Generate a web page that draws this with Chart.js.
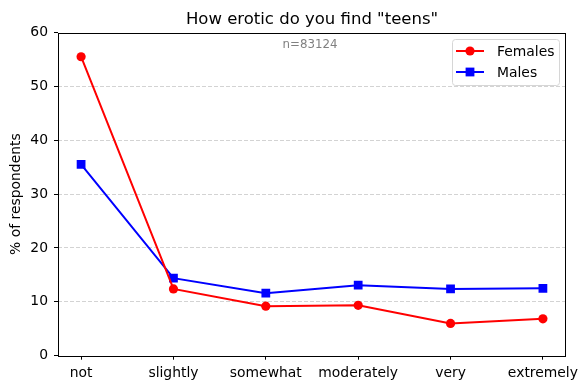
<!DOCTYPE html>
<html>
<head>
<meta charset="utf-8">
<script src="https://cdn.jsdelivr.net/npm/chart.js@4"></script>
<style>
  html, body { margin: 0; padding: 0; background: #fff; }
  #wrap { width: 587px; height: 390px; }
</style>
</head>
<body>
<div id="wrap"><canvas id="chart" width="587" height="390"></canvas></div>
<script>
// ===== Data =====
const categories = ['not', 'slightly', 'somewhat', 'moderately', 'very', 'extremely'];
const females = [55.5, 12.4, 9.2, 9.35, 6.0, 6.85];
const males = [35.5, 14.4, 11.6, 13.1, 12.4, 12.5];
const yTicks = [0, 10, 20, 30, 40, 50, 60];
const titleText = 'How erotic do you find "teens"';
const noteText = 'n=83124';

const FONT = '"DejaVu Sans", sans-serif';

// title, n= note, frame and legend drawn on top of the chart
const decorPlugin = {
  id: 'decor',
  afterDraw(chart) {
    const { ctx, chartArea: a } = chart;
    const cx = (a.left + a.right) / 2;
    ctx.save();
    // title
    ctx.fillStyle = '#000';
    ctx.font = '16.5px ' + FONT;
    ctx.textAlign = 'center';
    ctx.textBaseline = 'alphabetic';
    ctx.fillText(titleText, cx, 23.5);
    // note
    ctx.fillStyle = '#808080';
    ctx.font = '11.8px ' + FONT;
    ctx.textBaseline = 'top';
    ctx.fillText(noteText, cx - 2, 39.5);
    // frame
    ctx.strokeStyle = '#000';
    ctx.lineWidth = 1;
    ctx.strokeRect(Math.round(a.left) + 0.5, Math.round(a.top) + 0.5,
      Math.round(a.right - a.left) - 1, Math.round(a.bottom - a.top));
    // legend
    const bx = 452, by = 39, bw = 107, bh = 46;
    ctx.fillStyle = 'rgba(255,255,255,0.8)';
    ctx.strokeStyle = '#d6d6d6';
    ctx.beginPath();
    ctx.roundRect(bx + 0.5, by + 0.5, bw, bh, 3);
    ctx.fill();
    ctx.stroke();
    ctx.font = '13.9px ' + FONT;
    ctx.textAlign = 'left';
    ctx.textBaseline = 'middle';
    chart.data.datasets.forEach((ds, i) => {
      const y = by + 12 + i * 21;
      ctx.strokeStyle = ds.borderColor;
      ctx.lineWidth = 2;
      ctx.beginPath();
      ctx.moveTo(456, y);
      ctx.lineTo(484, y);
      ctx.stroke();
      ctx.fillStyle = ds.backgroundColor;
      if (ds.pointStyle === 'rect') {
        ctx.fillRect(470 - 4.4, y - 4.4, 8.8, 8.8);
      } else {
        ctx.beginPath();
        ctx.arc(470, y, 4.6, 0, Math.PI * 2);
        ctx.fill();
      }
      ctx.fillStyle = '#000';
      ctx.fillText(ds.label, 497, y + 1);
    });
    ctx.restore();
  }
};

function toPoints(values) {
  return values.map((v, i) => ({ x: i, y: v }));
}

new Chart(document.getElementById('chart'), {
  type: 'line',
  data: {
    datasets: [
      { label: 'Females', data: toPoints(females), borderColor: '#ff0000', backgroundColor: '#ff0000',
        borderWidth: 2, pointStyle: 'circle', pointRadius: 4.6, pointHoverRadius: 4.6, pointBorderWidth: 0 },
      { label: 'Males', data: toPoints(males), borderColor: '#0000ff', backgroundColor: '#0000ff',
        borderWidth: 2, pointStyle: 'rect', pointRadius: 6.2, pointHoverRadius: 6.2, pointBorderWidth: 0 }
    ]
  },
  options: {
    responsive: false,
    animation: false,
    layout: { padding: { top: 32.5, right: 21, left: 0, bottom: 0 } },
    plugins: { legend: { display: false }, title: { display: false }, tooltip: { enabled: false } },
    scales: {
      x: {
        type: 'linear',
        min: -0.25,
        max: 5.25,
        afterBuildTicks: s => { s.ticks = categories.map((_, i) => ({ value: i })); },
        afterFit: s => { s.height = 34.3; },
        ticks: { color: '#000', font: { family: FONT, size: 13.9 }, padding: 5,
          maxRotation: 0, autoSkip: false, callback: v => categories[v] },
        grid: { drawOnChartArea: false, tickColor: '#000', tickLength: 4, tickWidth: 1 },
        border: { display: false }
      },
      y: {
        min: 0,
        max: 60,
        afterBuildTicks: s => { s.ticks = yTicks.map(v => ({ value: v })); },
        afterFit: s => { s.width = 58; },
        ticks: { color: '#000', font: { family: FONT, size: 13.9 }, padding: 6 },
        grid: {
          color: c => (c.tick && (c.tick.value === 0 || c.tick.value === 60)) ? 'rgba(0,0,0,0)' : '#d3d3d3',
          lineWidth: 1, tickColor: '#000', tickLength: 4, tickWidth: 1, tickBorderDash: []
        },
        border: { display: false, dash: [4, 2] },
        title: { display: true, text: '% of respondents', color: '#000',
          font: { family: FONT, size: 13.9 }, padding: { top: 8, bottom: 0 } }
      }
    }
  },
  plugins: [decorPlugin]
});
</script>
</body>
</html>
